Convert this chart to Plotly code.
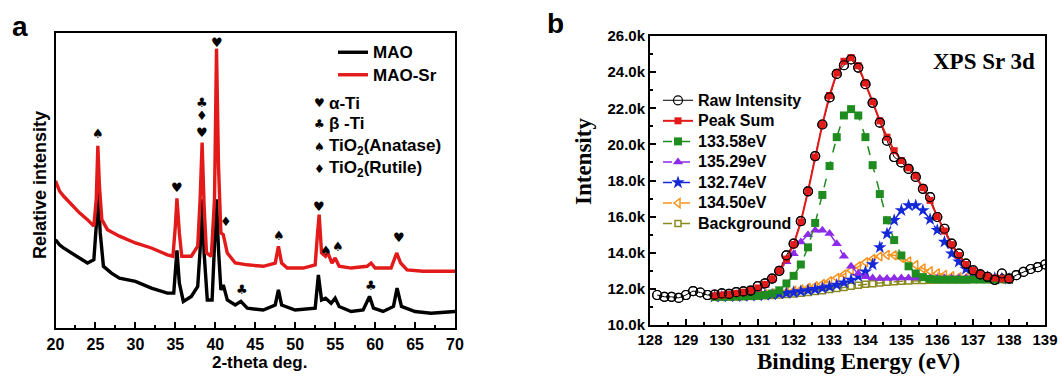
import plotly.graph_objects as go

# ---------------- Panel a : XRD ----------------
xrd_x_sr = [20, 20.5, 21, 22, 23, 24, 24.8, 25.1, 25.3, 25.5, 25.8, 26.5, 28, 30, 32, 34, 34.7,
            35.0, 35.2, 35.5, 35.8, 37, 37.8, 38.1, 38.35, 38.6, 38.9, 39.5, 39.9, 40.15, 40.4,
            40.7, 41.0, 41.5, 42.5, 44, 46, 47.5, 47.9, 48.3, 49, 51, 52.5, 52.8, 53.0, 53.3,
            53.8, 54.1, 54.6, 55.0, 55.5, 57, 59, 59.5, 60, 62, 62.7, 63.2, 64, 66, 68, 70]
mao_sr = [49.9, 46.5, 44.8, 42.0, 39.1, 36.8, 34.6, 43.7, 61.8, 48.2, 36.8, 33.4, 31.2, 28.9, 27.2,
          24.9, 24.4, 34.6, 44.0, 32.3, 24.4, 24.4, 27.8, 43.7, 62.9, 41.4, 25.5, 24.4, 43.7, 94.7,
          55.0, 32.3, 31.7, 25.5, 22.1, 21.5, 21.0, 22.1, 27.8, 22.1, 20.4, 20.4, 21.5, 32.3, 38.5,
          25.5, 24.4, 25.5, 22.1, 23.8, 21.0, 20.4, 21.0, 22.1, 20.4, 20.4, 25.5, 22.1, 19.8, 19.3,
          19.3, 19.3]

xrd_x_mao = [20, 20.5, 21, 22, 23, 24, 24.8, 25.1, 25.3, 25.6, 26, 27, 28, 30, 32, 34, 34.8, 35.0,
             35.2, 35.5, 36, 37, 37.8, 38.1, 38.35, 38.6, 39.0, 39.6, 39.9, 40.15, 40.4, 40.7, 41.0,
             41.5, 42.5, 43.2, 44, 46, 47.5, 47.9, 48.3, 50, 52.5, 52.9, 53.3, 53.8, 54.5, 55, 55.5,
             57, 58.5, 59.3, 59.8, 61, 62.3, 62.75, 63.3, 65, 67, 70]
mao = [30.0, 28.3, 27.2, 25.5, 23.8, 22.1, 23.2, 34.6, 47.6, 32.3, 21.0, 18.7, 17.0, 15.9, 13.6,
       11.9, 11.9, 18.7, 26.4, 15.3, 9.1, 10.8, 14.2, 26.6, 43.7, 25.5, 9.6, 9.6, 25.5, 43.7, 26.6,
       13.0, 14.7, 9.6, 7.9, 9.1, 6.8, 6.2, 7.9, 13.0, 7.9, 6.2, 6.8, 18.1, 9.6, 10.2, 8.5, 10.2,
       7.4, 5.7, 6.2, 10.8, 6.8, 5.7, 7.4, 13.6, 7.4, 5.7, 5.1, 5.7]

peak_mark_x = [25.3, 35.2, 38.3, 38.3, 38.3, 40.15, 41.3, 48.0, 53.0, 53.9, 55.3, 63.0, 43.3, 59.5]
peak_mark_y = [65.8, 47.6, 76.5, 72.0, 66.3, 96.9, 36.3, 31.4, 41.4, 26.4, 27.8, 30.6, 13.0, 14.4]
peak_mark_s = ["♠", "♥", "♣", "♦", "♥", "♥", "♦", "♠", "♥", "♠", "♠", "♥", "♣", "♣"]

phase_symbols = ["♥", "♣", "♠", "♦"]
phase_labels = ["α-Ti", "β -Ti", "TiO<sub>2</sub>(Anatase)", "TiO<sub>2</sub>(Rutile)"]

xrd_ticks = [20, 25, 30, 35, 40, 45, 50, 55, 60, 65, 70]

# ---------------- Panel b : XPS ----------------
raw_x = [128.2, 128.4, 128.6, 128.8, 129.0, 129.2, 129.4, 129.6, 129.8, 130.0, 130.2, 130.4, 130.6,
         130.8, 131.0, 131.2, 131.4, 131.6, 131.8, 132.0, 132.2, 132.4, 132.6, 132.8, 133.0, 133.2,
         133.4, 133.6, 133.8, 134.0, 134.2, 134.4, 134.6, 134.8, 135.0, 135.2, 135.4, 135.6, 135.8,
         136.0, 136.2, 136.4, 136.6, 136.8, 137.0, 137.2, 137.4, 137.6, 137.8, 138.0, 138.2, 138.4,
         138.6, 138.8, 139.0]
raw_y = [11.66, 11.56, 11.56, 11.5, 11.66, 11.88, 11.8, 11.66, 11.68, 11.75, 11.72, 11.82, 11.86,
         11.9, 12.15, 12.3, 12.57, 13.0, 13.86, 14.5, 15.75, 17.4, 19.35, 21.1, 22.6, 23.9, 24.38,
         24.7, 24.25, 23.33, 22.3, 21.2, 20.2, 19.3, 19.0, 18.64, 18.2, 17.54, 17.08, 15.98, 15.33,
         14.5, 13.95, 13.4, 13.03, 12.8, 12.67, 12.5, 12.85, 12.57, 12.76, 12.94, 13.1, 13.2, 13.35]

fit_x = [129.8, 130.0, 130.2, 130.4, 130.6, 130.8, 131.0, 131.2, 131.4, 131.6, 131.8, 132.0, 132.2,
         132.4, 132.6, 132.8, 133.0, 133.2, 133.4, 133.6, 133.8, 134.0, 134.2, 134.4, 134.6, 134.8,
         135.0, 135.2, 135.4, 135.6, 135.8, 136.0, 136.2, 136.4, 136.6, 136.8, 137.0, 137.2, 137.4,
         137.6, 137.8, 138.0]
peak_sum = [11.62, 11.66, 11.7, 11.75, 11.82, 11.92, 12.05, 12.25, 12.55, 13.0, 13.65, 14.45, 15.7,
            17.4, 19.3, 21.1, 22.7, 23.95, 24.6, 24.8, 24.35, 23.4, 22.35, 21.3, 20.4, 19.65, 19.1,
            18.7, 18.25, 17.6, 16.9, 16.0, 15.2, 14.45, 13.85, 13.35, 13.02, 12.82, 12.68, 12.6,
            12.56, 12.55]
fit_133_58 = [11.56, 11.56, 11.57, 11.58, 11.59, 11.6, 11.62, 11.66, 11.74, 11.92, 12.3, 12.72, 13.35,
              14.3, 15.65, 17.2, 18.8, 20.4, 21.6, 21.95, 21.6, 20.4, 18.85, 17.25, 15.8, 14.7, 13.85,
              13.25, 12.85, 12.65, 12.55, 12.52, 12.51, 12.51, 12.51, 12.51, 12.52, 12.52, 12.52,
              12.53, 12.53, 12.53]
fit_135_29 = [11.58, 11.6, 11.62, 11.66, 11.72, 11.82, 11.98, 12.2, 12.55, 13.0, 13.5, 13.95, 14.6,
              15.0, 15.24, 15.24, 15.06, 14.5, 13.8, 13.25, 12.85, 12.67, 12.6, 12.58, 12.58, 12.59,
              12.6, 12.6, 12.6, 12.6, 12.6, 12.6, 12.6, 12.6, 12.6, 12.6, 12.6, 12.6, 12.6, 12.6,
              12.6, 12.6]
fit_132_74 = [11.56, 11.57, 11.58, 11.59, 11.6, 11.61, 11.63, 11.65, 11.68, 11.72, 11.76, 11.8, 11.86,
              11.92, 11.98, 12.05, 12.12, 12.22, 12.35, 12.5, 12.7, 12.95, 13.35, 14.3, 15.05, 15.8,
              16.35, 16.62, 16.62, 16.35, 15.85, 15.25, 14.6, 13.95, 13.5, 13.1, 12.9, 12.75, 12.65,
              12.6, 12.56, 12.55]
fit_134_50 = [11.58, 11.59, 11.6, 11.61, 11.63, 11.65, 11.68, 11.71, 11.75, 11.79, 11.84, 11.9, 11.97,
              12.05, 12.15, 12.27, 12.42, 12.6, 12.8, 13.02, 13.25, 13.47, 13.65, 13.8, 13.88, 13.86,
              13.72, 13.52, 13.32, 13.13, 12.98, 12.86, 12.77, 12.7, 12.65, 12.62, 12.6, 12.58, 12.57,
              12.56, 12.55, 12.55]
background = [11.55, 11.55, 11.56, 11.57, 11.58, 11.59, 11.6, 11.62, 11.64, 11.66, 11.69, 11.72, 11.76,
              11.8, 11.85, 11.9, 11.96, 12.02, 12.08, 12.14, 12.2, 12.25, 12.29, 12.33, 12.37, 12.4,
              12.42, 12.44, 12.46, 12.47, 12.48, 12.49, 12.5, 12.5, 12.51, 12.51, 12.52, 12.52, 12.52,
              12.53, 12.53, 12.53]

xps_xticks = [128, 129, 130, 131, 132, 133, 134, 135, 136, 137, 138, 139]
xps_yticks = [10, 12, 14, 16, 18, 20, 22, 24, 26]

W, H = 1062, 376
SANS = "Liberation Sans, Arial, sans-serif"
SERIF = "Liberation Serif, Times New Roman, serif"


def b(s):
    return "<b>" + s + "</b>"


def lg(s, px):
    return "<b><span style='font-size:%dpx'>%s</span></b>" % (px, s)


fig = go.Figure()

# XRD traces
fig.add_trace(go.Scatter(x=xrd_x_mao, y=mao, mode="lines", name=lg("MAO", 17),
                         line=dict(color="black", width=3.4), xaxis="x", yaxis="y", legend="legend"))
fig.add_trace(go.Scatter(x=xrd_x_sr, y=mao_sr, mode="lines", name=lg("MAO-Sr", 17),
                         line=dict(color="#e21a1a", width=3.4), xaxis="x", yaxis="y", legend="legend"))

# XPS traces (drawn bottom to top)
fig.add_trace(go.Scatter(x=fit_x, y=background, mode="lines+markers", name=lg("Background", 16),
                         line=dict(color="#8a8a1e", width=1.5, dash="dash"),
                         marker=dict(symbol="square-open", size=6, color="#8a8a1e", line=dict(width=1.5)),
                         xaxis="x2", yaxis="y2", legend="legend2", legendrank=7))
fig.add_trace(go.Scatter(x=fit_x, y=fit_134_50, mode="lines+markers", name=lg("134.50eV", 16),
                         line=dict(color="#f7941d", width=1.5, dash="dash"),
                         marker=dict(symbol="triangle-left-open", size=8, color="#f7941d", line=dict(width=1.5)),
                         xaxis="x2", yaxis="y2", legend="legend2", legendrank=6))
fig.add_trace(go.Scatter(x=fit_x, y=fit_132_74, mode="lines+markers", name=lg("132.74eV", 16),
                         line=dict(color="#1428d8", width=1.5, dash="dash"),
                         marker=dict(symbol="star", size=10, color="#1428d8", line=dict(width=0)),
                         xaxis="x2", yaxis="y2", legend="legend2", legendrank=5))
fig.add_trace(go.Scatter(x=fit_x, y=fit_135_29, mode="lines+markers", name=lg("135.29eV", 16),
                         line=dict(color="#8c2be8", width=1.5, dash="dash"),
                         marker=dict(symbol="triangle-up", size=9, color="#8c2be8", line=dict(width=0)),
                         xaxis="x2", yaxis="y2", legend="legend2", legendrank=4))
fig.add_trace(go.Scatter(x=fit_x, y=fit_133_58, mode="lines+markers", name=lg("133.58eV", 16),
                         line=dict(color="#1e8c1e", width=1.5, dash="dash"),
                         marker=dict(symbol="square", size=8, color="#1e8c1e", line=dict(width=0)),
                         xaxis="x2", yaxis="y2", legend="legend2", legendrank=3))
# raw data: line + legend entry below the peak sum, circles on top
fig.add_trace(go.Scatter(x=raw_x, y=raw_y, mode="lines+markers", name=lg("Raw Intensity", 16),
                         line=dict(color="black", width=1),
                         marker=dict(symbol="circle-open", size=9, color="black", line=dict(width=1.2)),
                         xaxis="x2", yaxis="y2", legend="legend2", legendrank=1))
fig.add_trace(go.Scatter(x=fit_x, y=peak_sum, mode="lines+markers", name=lg("Peak Sum", 16),
                         line=dict(color="#e21a1a", width=2),
                         marker=dict(symbol="square", size=7, color="#e21a1a", line=dict(width=0)),
                         xaxis="x2", yaxis="y2", legend="legend2", legendrank=2))
fig.add_trace(go.Scatter(x=raw_x, y=raw_y, mode="markers", showlegend=False,
                         marker=dict(symbol="circle-open", size=9, color="black", line=dict(width=1.2)),
                         xaxis="x2", yaxis="y2", legend="legend2"))

annotations = []
# peak identification symbols
for px, py, ps in zip(peak_mark_x, peak_mark_y, peak_mark_s):
    annotations.append(dict(x=px, y=py, xref="x", yref="y", text=ps, showarrow=False,
                            xanchor="center", yanchor="middle",
                            font=dict(family="DejaVu Sans", size=13, color="black")))
# phase key
key_y = [103, 124, 147, 169]
for sym, lab, yy in zip(phase_symbols, phase_labels, key_y):
    annotations.append(dict(x=319 / W, y=1 - yy / H, xref="paper", yref="paper", text=sym,
                            showarrow=False, xanchor="center", yanchor="middle",
                            font=dict(family="DejaVu Sans", size=12, color="black")))
    annotations.append(dict(x=327 / W, y=1 - yy / H, xref="paper", yref="paper", text=b(lab),
                            showarrow=False, xanchor="left", yanchor="middle",
                            font=dict(family=SANS, size=17, color="black")))
# panel letters
annotations.append(dict(x=20 / W, y=1 - 26 / H, xref="paper", yref="paper", text=b("a"), showarrow=False,
                        xanchor="center", yanchor="middle",
                        font=dict(family=SANS, size=28, color="black")))
annotations.append(dict(x=555 / W, y=1 - 24 / H, xref="paper", yref="paper", text=b("b"), showarrow=False,
                        xanchor="center", yanchor="middle",
                        font=dict(family=SANS, size=28, color="black")))
# axis titles
annotations.append(dict(x=259 / W, y=1 - 362 / H, xref="paper", yref="paper", text=b("2-theta deg."),
                        showarrow=False, xanchor="center", yanchor="middle",
                        font=dict(family=SANS, size=17, color="black")))
annotations.append(dict(x=40 / W, y=1 - 185 / H, xref="paper", yref="paper", text=b("Relative intensity"),
                        showarrow=False, textangle=-90, xanchor="center", yanchor="middle",
                        font=dict(family=SANS, size=18, color="black")))
annotations.append(dict(x=858 / W, y=1 - 361 / H, xref="paper", yref="paper", text=b("Binding Energy (eV)"),
                        showarrow=False, xanchor="center", yanchor="middle",
                        font=dict(family=SERIF, size=23, color="black")))
annotations.append(dict(x=583 / W, y=1 - 162 / H, xref="paper", yref="paper", text=b("Intensity"),
                        showarrow=False, textangle=-90, xanchor="center", yanchor="middle",
                        font=dict(family=SERIF, size=23, color="black")))
annotations.append(dict(x=1037 / W, y=1 - 61 / H, xref="paper", yref="paper", text=b("XPS Sr 3d"),
                        showarrow=False, xanchor="right", yanchor="middle",
                        font=dict(family=SERIF, size=23, color="black")))

axis_common = dict(showline=True, linecolor="black", linewidth=2, mirror=True, showgrid=False,
                   zeroline=False, tickcolor="black", tickwidth=1.5)
minor_common = dict(ticks="inside", tickcolor="black", tickwidth=1.5, ticklen=3)

fig.update_layout(
    width=W, height=H, margin=dict(l=0, r=0, t=0, b=0, autoexpand=False),
    paper_bgcolor="white", plot_bgcolor="white",
    xaxis=dict(domain=[55.5 / W, 455 / W], range=[20, 70], ticks="inside", ticklen=6,
               tickvals=xrd_ticks, ticktext=[b(str(v)) for v in xrd_ticks],
               minor=dict(dtick=2.5, tick0=20, **minor_common),
               tickfont=dict(family=SANS, size=16, color="black"),
               anchor="y", **axis_common),
    yaxis=dict(domain=[1 - 328.3 / H, 1 - 33 / H], range=[0, 100], showticklabels=False, ticks="",
               anchor="x", **axis_common),
    xaxis2=dict(domain=[650 / W, 1045 / W], range=[128, 139], ticks="inside", ticklen=6,
                tickvals=xps_xticks, ticktext=[b(str(v)) for v in xps_xticks],
                minor=dict(dtick=0.5, tick0=128, **minor_common),
                tickfont=dict(family=SANS, size=15, color="black"),
                anchor="y2", **axis_common),
    yaxis2=dict(domain=[1 - 325 / H, 1 - 36 / H], range=[10, 26], ticks="inside", ticklen=6,
                tickvals=xps_yticks, ticktext=[b("%.1fk" % v) for v in xps_yticks],
                minor=dict(dtick=1, tick0=10, **minor_common),
                tickfont=dict(family=SANS, size=15, color="black"),
                anchor="x2", **axis_common),
    legend=dict(x=333 / W, y=1 - 36 / H, xanchor="left", yanchor="top", bgcolor="rgba(0,0,0,0)",
                font=dict(family=SANS, size=15, color="black"), itemwidth=30,
                tracegroupgap=0),
    legend2=dict(x=658 / W, y=1 - 85 / H, xanchor="left", yanchor="top", bgcolor="rgba(0,0,0,0)",
                 font=dict(family=SANS, size=13.5, color="black"), itemwidth=30,
                 traceorder="normal"),
    annotations=annotations,
    showlegend=True,
)

fig.write_html("out.html", config={"displayModeBar": False},
               post_script="document.body.style.margin='0px';document.body.style.overflow='hidden';")
